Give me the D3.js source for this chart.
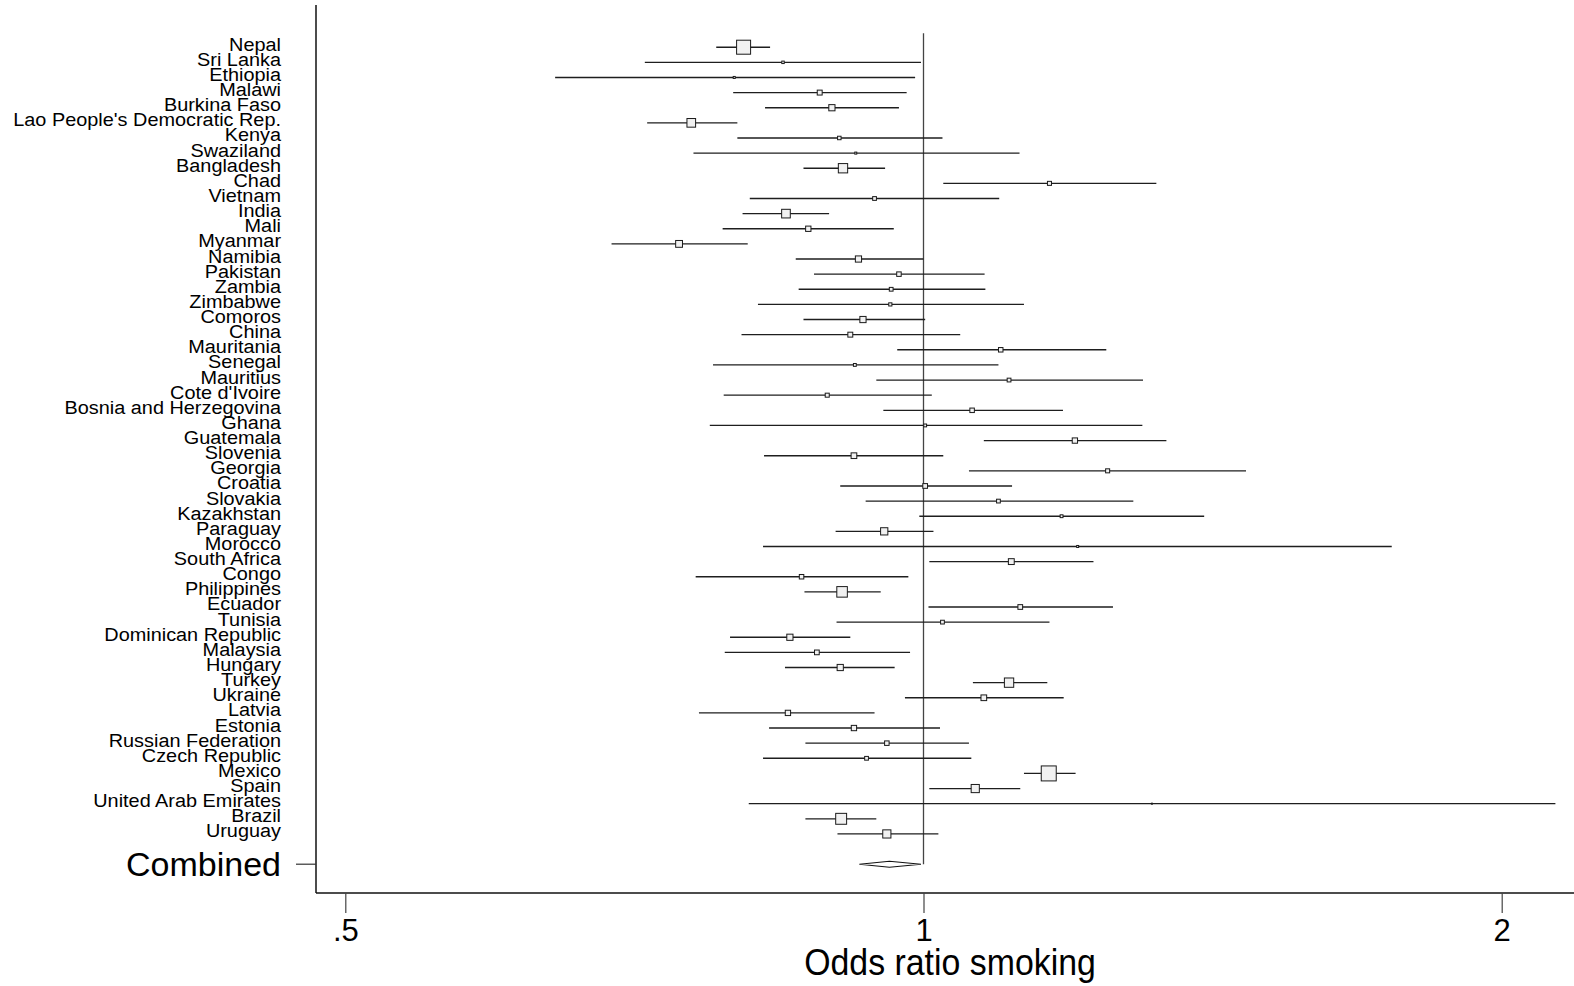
<!DOCTYPE html>
<html>
<head>
<meta charset="utf-8">
<script src="https://cdn.jsdelivr.net/npm/d3@7"></script>
<style>
  html, body { margin: 0; padding: 0; background: #fff; }
  svg { display: block; font-family: "Liberation Sans", Arial, Helvetica, sans-serif; }
</style>
</head>
<body>
<svg id="chart" width="1574" height="986"></svg>
<script>
// Country-level odds ratios for smoking, with 95% confidence limits and study weights (%)
const countries = [
  "Nepal", "Sri Lanka", "Ethiopia", "Malawi", "Burkina Faso",
  "Lao People's Democratic Rep.", "Kenya", "Swaziland", "Bangladesh", "Chad",
  "Vietnam", "India", "Mali", "Myanmar", "Namibia",
  "Pakistan", "Zambia", "Zimbabwe", "Comoros", "China",
  "Mauritania", "Senegal", "Mauritius", "Cote d'Ivoire", "Bosnia and Herzegovina",
  "Ghana", "Guatemala", "Slovenia", "Georgia", "Croatia",
  "Slovakia", "Kazakhstan", "Paraguay", "Morocco", "South Africa",
  "Congo", "Philippines", "Ecuador", "Tunisia", "Dominican Republic",
  "Malaysia", "Hungary", "Turkey", "Ukraine", "Latvia",
  "Estonia", "Russian Federation", "Czech Republic", "Mexico", "Spain",
  "United Arab Emirates", "Brazil", "Uruguay"
];

const orEst = [
  0.806, 0.845, 0.797, 0.883, 0.896,
  0.757, 0.904, 0.922, 0.908, 1.163,
  0.943, 0.848, 0.871, 0.746, 0.925,
  0.971, 0.962, 0.961, 0.930, 0.916,
  1.097, 0.921, 1.108, 0.891, 1.060,
  1.002, 1.199, 0.920, 1.247, 1.002,
  1.094, 1.180, 0.954, 1.203, 1.111,
  0.864, 0.907, 1.123, 1.023, 0.852,
  0.880, 0.905, 1.108, 1.075, 0.850,
  0.920, 0.957, 0.934, 1.162, 1.064,
  1.315, 0.906, 0.957
];

const orLow = [
  0.780, 0.716, 0.643, 0.796, 0.827,
  0.718, 0.800, 0.759, 0.866, 1.024,
  0.812, 0.805, 0.786, 0.688, 0.858,
  0.877, 0.861, 0.820, 0.866, 0.804,
  0.969, 0.777, 0.945, 0.787, 0.953,
  0.774, 1.075, 0.826, 1.056, 0.905,
  0.933, 0.995, 0.900, 0.825, 1.007,
  0.761, 0.867, 1.006, 0.901, 0.793,
  0.788, 0.847, 1.061, 0.978, 0.764,
  0.831, 0.868, 0.825, 1.128, 1.007,
  0.811, 0.868, 0.902
];

const orHigh = [
  0.832, 0.997, 0.990, 0.980, 0.971,
  0.800, 1.023, 1.122, 0.955, 1.322,
  1.095, 0.893, 0.965, 0.810, 1.000,
  1.076, 1.077, 1.128, 1.002, 1.045,
  1.245, 1.094, 1.301, 1.010, 1.182,
  1.300, 1.338, 1.024, 1.472, 1.112,
  1.286, 1.400, 1.012, 1.753, 1.226,
  0.982, 0.950, 1.255, 1.163, 0.916,
  0.984, 0.966, 1.160, 1.183, 0.943,
  1.020, 1.056, 1.059, 1.200, 1.123,
  2.133, 0.945, 1.018
];

const weights = [
  9.7, 0.3, 0.2, 1.2, 1.9,
  3.7, 0.6, 0.2, 4.3, 0.8,
  0.7, 3.7, 1.4, 2.3, 1.9,
  1.0, 0.7, 0.5, 1.9, 1.2,
  1.0, 0.4, 0.7, 0.8, 1.0,
  0.4, 1.4, 1.6, 0.8, 1.1,
  0.7, 0.4, 2.6, 0.2, 1.7,
  1.0, 5.5, 1.1, 0.7, 1.9,
  1.1, 1.9, 4.3, 1.6, 1.4,
  1.4, 1.0, 0.7, 11.1, 3.3,
  0.05, 5.9, 3.3
];

// Pooled estimate: [estimate, lower, upper]
const pooledLabel = "Combined";
const pooled = [0.960, 0.926, 0.997];

const xTickValues = [0.5, 1, 2];
const xTickLabels = [".5", "1", "2"];
const xTitle = "Odds ratio smoking";

// ---- layout ----
const W = 1574, H = 986;
const axisX = 316;          // left frame line
const axisY = 893;          // bottom frame line
const labelRight = 281;     // right edge of row labels

const svg = d3.select("#chart");

const x = d3.scaleLog().domain([0.5, 2]).range([345.3, 1501.7]);
const pooledRow = countries.length + 1;   // one blank row before the pooled line
const y = d3.scaleLinear().domain([0, pooledRow]).range([47.2, 864.2]);
const boxSide = d3.scaleSqrt().domain([0, 9.7]).range([0, 14]);

const rows = countries.map((c, i) => ({
  name: c, est: orEst[i], lo: orLow[i], hi: orHigh[i], w: weights[i], i
}));

// frame lines
svg.append("line")
  .attr("x1", axisX).attr("x2", axisX).attr("y1", 5).attr("y2", axisY)
  .attr("stroke", "#111").attr("stroke-width", 1.5);
svg.append("line")
  .attr("x1", axisX).attr("x2", W).attr("y1", axisY).attr("y2", axisY)
  .attr("stroke", "#111").attr("stroke-width", 1.5);

// line of no effect
svg.append("line")
  .attr("x1", x(1)).attr("x2", x(1))
  .attr("y1", y(-0.93)).attr("y2", y(pooledRow))
  .attr("stroke", "#444").attr("stroke-width", 1.3);

// confidence intervals
svg.append("g").selectAll("line")
  .data(rows).join("line")
  .attr("x1", d => x(d.lo)).attr("x2", d => x(d.hi))
  .attr("y1", d => y(d.i)).attr("y2", d => y(d.i))
  .attr("stroke", "#1e1e1e").attr("stroke-width", 1.35);

// weighted boxes
svg.append("g").selectAll("rect")
  .data(rows).join("rect")
  .attr("x", d => x(d.est) - Math.max(1, boxSide(d.w)) / 2)
  .attr("y", d => y(d.i) - Math.max(1, boxSide(d.w)) / 2)
  .attr("width", d => Math.max(1, boxSide(d.w)))
  .attr("height", d => Math.max(1, boxSide(d.w)))
  .attr("fill", "#f1f1f1")
  .attr("stroke", "#1a1a1a").attr("stroke-width", 1);

// pooled diamond
const py = y(pooledRow);
svg.append("path")
  .attr("d", d3.line()([
    [x(pooled[1]), py], [x(pooled[0]), py - 3],
    [x(pooled[2]), py], [x(pooled[0]), py + 3]
  ]) + "Z")
  .attr("fill", "#fff").attr("stroke", "#111").attr("stroke-width", 1.1);

// row labels
svg.append("g").selectAll("text")
  .data(rows).join("text")
  .attr("transform", d => `translate(${labelRight},${y(d.i) + 3.5}) scale(1.17,1.04)`)
  .attr("text-anchor", "end")
  .attr("font-size", 17)
  .attr("fill", "#000")
  .text(d => d.name);

// pooled label and its tick
svg.append("line")
  .attr("x1", axisX - 20).attr("x2", axisX).attr("y1", py).attr("y2", py)
  .attr("stroke", "#333").attr("stroke-width", 1.2);
svg.append("text")
  .attr("x", labelRight).attr("y", py + 12)
  .attr("text-anchor", "end")
  .attr("font-size", 34)
  .text(pooledLabel);

// x axis ticks and labels
const xAxis = d3.axisBottom(x)
  .tickValues(xTickValues)
  .tickFormat((d, i) => xTickLabels[i])
  .tickSize(20)
  .tickSizeOuter(0);
const gx = svg.append("g").attr("transform", `translate(0,${axisY})`).call(xAxis);
gx.select(".domain").remove();
gx.selectAll(".tick line").attr("stroke", "#444").attr("stroke-width", 1.2);
gx.selectAll(".tick text")
  .attr("y", 48).attr("dy", null)
  .attr("font-size", 31)
  .attr("font-family", "\"Liberation Sans\", Arial, sans-serif")
  .attr("fill", "#000");

// x axis title
svg.append("text")
  .attr("transform", `translate(950,975) scale(0.915,1)`)
  .attr("text-anchor", "middle")
  .attr("font-size", 37)
  .text(xTitle);
</script>
</body>
</html>
